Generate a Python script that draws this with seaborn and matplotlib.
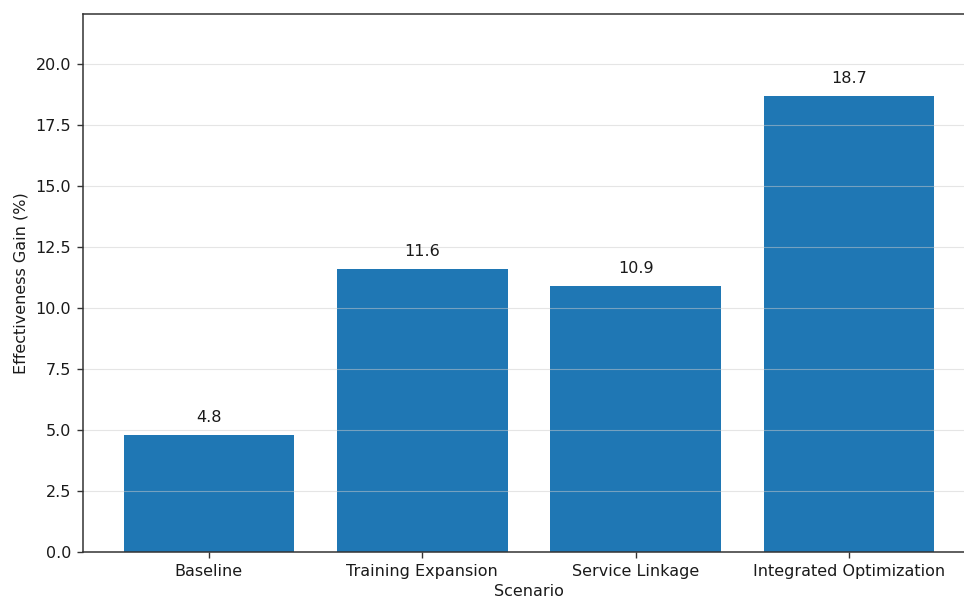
import pandas as pd
import seaborn as sns
import matplotlib.pyplot as plt

scenarios = ["Baseline", "Training Expansion", "Service Linkage", "Integrated Optimization"]
gains = [4.8, 11.6, 10.9, 18.7]

df = pd.DataFrame({"Scenario": scenarios, "Gain": gains})

sns.set_theme(style="ticks")
plt.rcParams["font.family"] = ["DejaVu Sans"]
plt.rcParams["axes.axisbelow"] = "line"

fig = plt.figure(figsize=(9.64, 5.99), dpi=100)
ax = fig.add_axes([83 / 964, 47 / 599, 892 / 964, 538 / 599])

sns.barplot(data=df, x="Scenario", y="Gain", color="#1f77b4", saturation=1,
            width=0.8, linewidth=0, ax=ax)
ax.set_xlim(-0.59, 3.59)
ax.set_ylim(0, max(gains) * 1.18)

ax.yaxis.grid(True, color="#cccccc", alpha=0.5, linewidth=0.8)
ax.set_yticks([0, 2.5, 5, 7.5, 10, 12.5, 15, 17.5, 20])
ax.set_yticklabels([f"{v:.1f}" for v in ax.get_yticks()])
for s in ax.spines.values():
    s.set_color("#333333")
    s.set_linewidth(1.1)
ax.tick_params(labelsize=11.5, colors="#333333", labelcolor="#1a1a1a",
               length=4, width=1, pad=4.5)

for i, v in enumerate(gains):
    ax.text(i, v + 0.4, f"{v:.1f}", ha="center", va="bottom", fontsize=11.5,
            color="#1a1a1a")

ax.set_xlabel("Scenario", fontsize=11.5, color="#1a1a1a", labelpad=4)
ax.set_ylabel("Effectiveness Gain (%)", fontsize=11.5, color="#1a1a1a", labelpad=5)

fig.savefig("out.png", dpi=100)
